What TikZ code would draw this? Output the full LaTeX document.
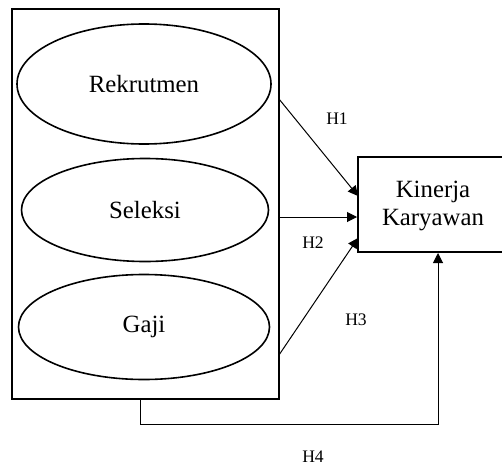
\documentclass[tikz,border=0pt]{standalone}
\usepackage{fontspec}
\setmainfont{Liberation Serif}
\usetikzlibrary{shapes.geometric,arrows.meta}
\tikzset{
	var/.style={ellipse, draw, line width=0.8pt, inner sep=0pt},
	hyp/.style={-{Triangle[length=5pt,width=5pt]}, line width=0.5pt},
	hlabel/.style={font=\fontsize{8.8}{10}\selectfont, inner sep=0pt}
}
\begin{document}
\begin{tikzpicture}[x=0.5pt, y=-0.5pt]
	\useasboundingbox (0,0) rectangle (502,465);
	\clip (0,0) rectangle (502,465);
	
	\node[draw, line width=1pt, minimum width=133.5pt, minimum height=195pt, inner sep=0pt] (outer) at (145.5,204) {};
	\node[var, minimum width=127pt, minimum height=60pt, font=\fontsize{12.4}{14}\selectfont] (rekrutmen) at (144,84) {Rekrutmen};
	\node[var, minimum width=123.5pt, minimum height=51.5pt, font=\fontsize{12.4}{14}\selectfont] (seleksi) at (145,210) {Seleksi};
	\node[var, minimum width=125.5pt, minimum height=52.5pt, font=\fontsize{12.4}{14}\selectfont] (gaji) at (144,327) {Gaji};
	
	% box runs off the right edge
	\node[draw, line width=1pt, minimum width=84pt, minimum height=47.5pt, inner sep=0pt] (kinerja) at (442,204.5) {};
	\node[align=center, inner sep=0pt, font=\fontsize{12.4}{14}\selectfont] (kinerjatext) at (433,206) {Kinerja\\Karyawan};
	
	\coordinate (s1) at (279,99);
	\coordinate (s2) at (279,217);
	\coordinate (s3) at (279,355);
	\coordinate (e1) at (358,196);
	\coordinate (e3) at (358,238);
	\coordinate (h4a) at (140,399);
	\coordinate (h4b) at (438,424);
	
	\draw[hyp] (s1) -- (e1);
	\draw[hyp] (s2) -- (kinerja.west |- s2);
	\draw[hyp] (s3) -- (e3);
	\draw[hyp] (h4a) |- (h4b) -- (h4b |- kinerja.south);
	
	\node[hlabel] (h1) at (337,119) {H1};
	\node[hlabel] (h2) at (313,243) {H2};
	\node[hlabel] (h3) at (356,320) {H3};
	\node[hlabel] (h4) at (313,457) {H4};
\end{tikzpicture}
\end{document}
